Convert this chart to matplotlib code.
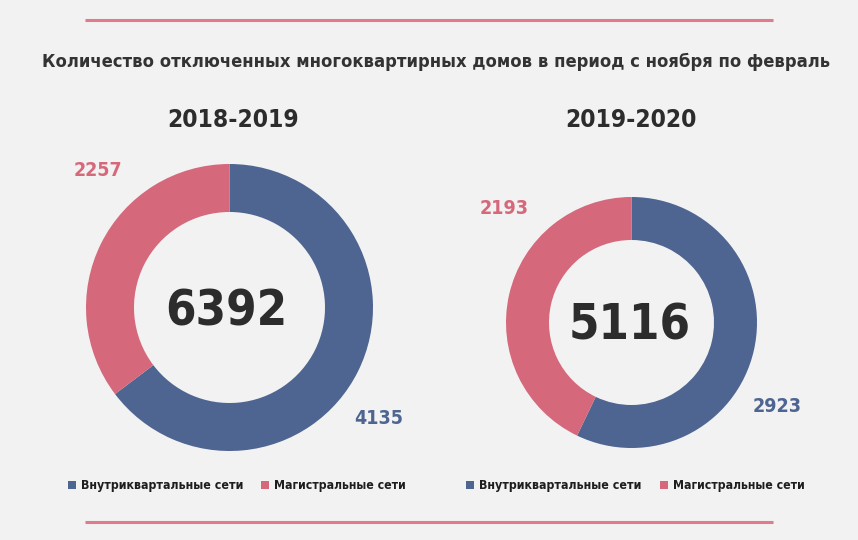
import matplotlib.pyplot as plt
from matplotlib import font_manager
from matplotlib.patches import Rectangle

# data
periods = ['2018-2019', '2019-2020']
series_names = ['Внутриквартальные сети', 'Магистральные сети']
inner_vals = [4135, 2923]     # Внутриквартальные сети
main_vals = [2257, 2193]      # Магистральные сети
title = 'Количество отключенных многоквартирных домов в период с ноября по февраль'

BG = '#f2f2f2'
BLUE = '#4e6591'
RED = '#d5687a'
DARK = '#2c2c2c'

# pick the narrowest face that is installed
fonts = font_manager.fontManager.ttflist
names = {f.name for f in fonts}
STRETCH = 'normal'
if any(f.name == 'DejaVu Sans' and f.stretch in ('condensed', 'semi-condensed', 75, 87) for f in fonts):
    FONT = ['DejaVu Sans']
    STRETCH = 'condensed'
elif 'Liberation Sans Narrow' in names:
    FONT = ['Liberation Sans Narrow', 'DejaVu Sans']
elif 'Roboto Condensed' in names:
    FONT = ['Roboto Condensed', 'DejaVu Sans']
else:
    FONT = ['Roboto', 'DejaVu Sans']

W, H = 858, 540
fig = plt.figure(figsize=(W / 100, H / 100), dpi=100, facecolor=BG)
ax = fig.add_axes([0, 0, 1, 1])
ax.set_facecolor(BG)
fitted = []


def Y(y):
    # image pixel rows -> data y (origin at bottom)
    return H - y


def label(x, y, s, size, color, max_w, ha='center'):
    t = ax.text(x, Y(y), s, ha=ha, va='center', fontsize=size, fontweight='bold',
                color=color, family=FONT, fontstretch=STRETCH)
    fitted.append((t, max_w))
    return t


# donut layout: centre x, centre y, radius, ring width (pixels)
layout = [
    dict(cx=229.5, cy=307.5, r=143.5, w=48, title_x=233, num_x=226, num_y=311,
         main_lab=(98, 171), inner_lab=(379, 418), leg_x=(72, 265)),
    dict(cx=631.5, cy=322.5, r=125.5, w=43, title_x=631, num_x=630, num_y=325,
         main_lab=(504, 209), inner_lab=(777, 407), leg_x=(470, 664)),
]
leg_w = [162, 132]

for i, lay in enumerate(layout):
    vals = [inner_vals[i], main_vals[i]]
    ax.pie(vals, colors=[BLUE, RED], startangle=90, counterclock=False,
           radius=lay['r'], center=(lay['cx'], Y(lay['cy'])),
           wedgeprops=dict(width=lay['w'], linewidth=0))
    label(lay['num_x'], lay['num_y'], str(sum(vals)), 46, DARK, 122)
    label(lay['title_x'], 120, periods[i], 25, DARK, 132)
    label(lay['main_lab'][0], lay['main_lab'][1], str(main_vals[i]), 18, RED, 49)
    label(lay['inner_lab'][0], lay['inner_lab'][1], str(inner_vals[i]), 18, BLUE, 49)
    # legend
    for j, (x0, col, name) in enumerate(zip(lay['leg_x'], [BLUE, RED], series_names)):
        ax.add_patch(Rectangle((x0 - 4, Y(489)), 8, 8, color=col, lw=0))
        label(x0 + 9, 485, name, 13, '#1e1e1e', leg_w[j], ha='left')

label(436, 62, title, 18, '#333333', 790)

# pink rules top and bottom
ax.plot([85, 773], [Y(20), Y(20)], color='#e07a8c', lw=2.2, solid_capstyle='butt')
ax.plot([85, 773], [Y(522), Y(522)], color='#e07a8c', lw=2.2, solid_capstyle='butt')

ax.set_xlim(0, W)
ax.set_ylim(0, H)
ax.set_aspect('auto')
ax.axis('off')

# shrink any text that is wider than its slot in the reference
renderer = fig.canvas.get_renderer()
for t, max_w in fitted:
    w = t.get_window_extent(renderer).width
    if w > max_w:
        t.set_fontsize(t.get_fontsize() * max_w / w)

fig.savefig('out.png', dpi=100, facecolor=BG)
